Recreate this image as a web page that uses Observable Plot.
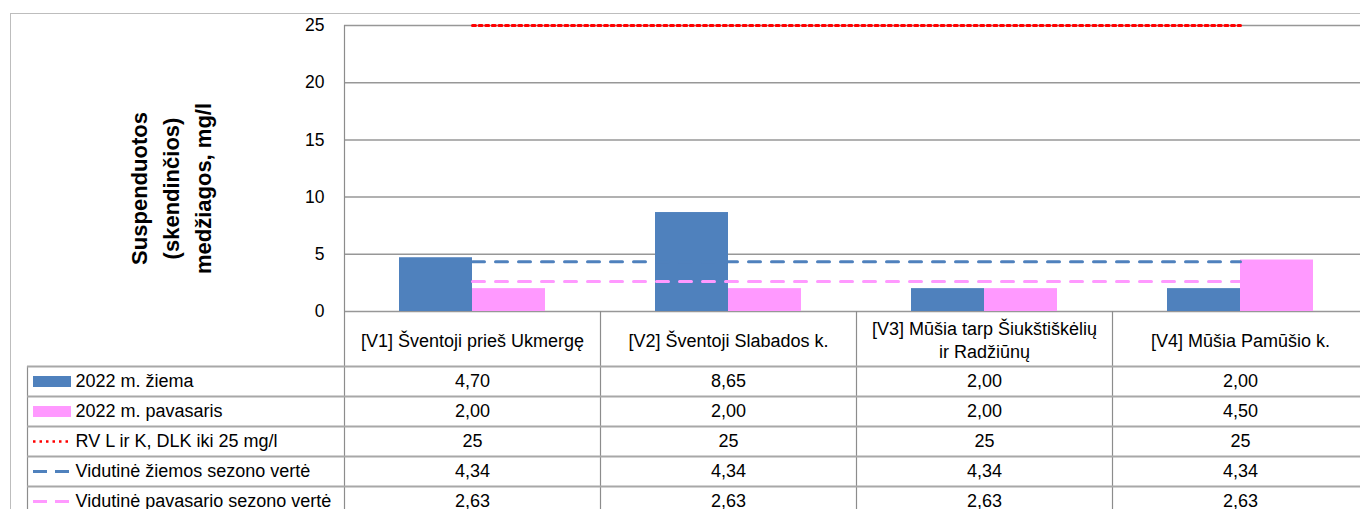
<!DOCTYPE html>
<html><head><meta charset="utf-8">
<script src="https://cdn.jsdelivr.net/npm/d3@7"></script>
<script src="https://cdn.jsdelivr.net/npm/@observablehq/plot@0.6"></script>
<style>
body{margin:0;background:#fff;}
#wrap{position:relative;width:1360px;height:509px;overflow:hidden;font-family:"Liberation Sans",Arial,sans-serif;background:#fff;}
#frame{position:absolute;left:10px;top:13px;width:1400px;height:600px;border:1.5px solid #bdbdbd;box-sizing:border-box;}
#chart{position:absolute;left:0;top:0;}
#table{position:absolute;left:0;top:311px;}
</style></head>
<body><div id="wrap"><div id="frame"></div><div id="chart"></div><div id="table"></div></div>
<script>
// ---- data ----
const categories = ["[V1] Šventoji prieš Ukmergę", "[V2] Šventoji Slabados k.", "[V3] Mūšia tarp Šiukštiškėlių ir Radžiūnų", "[V4] Mūšia Pamūšio k."];
const categoryLabels = ["[V1] Šventoji prieš Ukmergę", "[V2] Šventoji Slabados k.", "[V3] Mūšia tarp Šiukštiškėlių\nir Radžiūnų", "[V4] Mūšia Pamūšio k."];
const seriesNames = ["2022 m. žiema", "2022 m. pavasaris", "RV L ir K, DLK iki 25 mg/l", "Vidutinė žiemos sezono vertė", "Vidutinė pavasario sezono vertė"];
const winter = [4.70, 8.65, 2.00, 2.00];
const spring = [2.00, 2.00, 2.00, 4.50];
const limit = [25, 25, 25, 25];
const winterAvg = [4.34, 4.34, 4.34, 4.34];
const springAvg = [2.63, 2.63, 2.63, 2.63];
const yTicks = [0, 5, 10, 15, 20, 25];
const yTitle = "Suspenduotos\n(skendinčios)\nmedžiagos, mg/l";

// ---- styles / layout ----
const FONT = "'Liberation Sans', Arial, sans-serif";
const BLUE = "#4F81BD", PINK = "#FF99FF", RED = "#FF0000";
const GRID = "#979797", VLINE = "#8c8c8c", HLINE = "#a8a8a8";
const X0 = 344, X1 = 1368;
const bw = (X1 - X0) / categories.length;
const barW = 73;
const LABEL_LEFT = 27;

const rows = (vals, s) => categories.map((c, i) => ({cat: c, v: vals[i], series: s}));
const winterRows = rows(winter, seriesNames[0]);
const springRows = rows(spring, seriesNames[1]);
const limitRows = rows(limit, seriesNames[2]);
const wAvgRows = rows(winterAvg, seriesNames[3]);
const sAvgRows = rows(springAvg, seriesNames[4]);

const comma2 = v => d3.format(".2f")(v).replace(".", ",");
const tableData = [
  ...winterRows.map(d => ({...d, t: comma2(d.v)})),
  ...springRows.map(d => ({...d, t: comma2(d.v)})),
  ...limitRows.map(d => ({...d, t: String(d.v)})),
  ...wAvgRows.map(d => ({...d, t: comma2(d.v)})),
  ...sAvgRows.map(d => ({...d, t: comma2(d.v)}))
];

// ---- chart ----
const chart = Plot.plot({
  width: 1360, height: 312,
  marginTop: 25, marginBottom: 1, marginLeft: X0, marginRight: 0,
  style: {fontFamily: FONT, fontSize: "17.5px", color: "#000", background: "transparent", overflow: "visible"},
  x: {type: "band", domain: categories, range: [X0, X1], padding: 0, axis: null},
  y: {domain: [0, 25], axis: null},
  marks: [
    Plot.gridY(yTicks, {stroke: GRID, strokeOpacity: 1, strokeWidth: 1.5}),
    Plot.ruleX([categories[0]], {x: d => d, dx: -bw / 2, stroke: VLINE, strokeWidth: 1.2}),
    Plot.axisY(yTicks, {tickSize: 0, tickPadding: 20, label: null, fill: "#000", fontSize: 17.5}),
    Plot.barY(winterRows, {x: "cat", y: "v", fill: BLUE, insetLeft: bw / 2 - barW, insetRight: bw / 2}),
    Plot.barY(springRows, {x: "cat", y: "v", fill: PINK, insetLeft: bw / 2, insetRight: bw / 2 - barW}),
    Plot.lineY(limitRows, {x: "cat", y: "v", stroke: RED, strokeWidth: 3, strokeDasharray: "3,3.6"}),
    Plot.lineY(wAvgRows, {x: "cat", y: "v", stroke: BLUE, strokeWidth: 3, strokeDasharray: "12,11"}),
    Plot.lineY(sAvgRows, {x: "cat", y: "v", stroke: PINK, strokeWidth: 3, strokeDasharray: "12,11"}),
    Plot.text([yTitle], {frameAnchor: "left", dx: 168 - X0, dy: 20, rotate: -90, fontWeight: "bold", fontSize: 22, lineHeight: 1.45, lineAnchor: "middle", textAnchor: "middle", fill: "#000"})
  ]
});
document.getElementById("chart").append(chart);

// ---- data table ----
const swatch = (name, opts) => Plot.ruleY([name], {y: d => d, insetLeft: -(X0 - 33), insetRight: 1360 - 71, ...opts});
const table = Plot.plot({
  width: 1360, height: 205,
  marginTop: 55, marginBottom: 0, marginLeft: X0, marginRight: 0,
  style: {fontFamily: FONT, fontSize: "18px", color: "#000", background: "transparent", overflow: "visible"},
  x: {type: "band", domain: categories, range: [X0, X1], padding: 0, axis: null},
  y: {type: "band", domain: seriesNames, range: [55, 205], padding: 0, axis: null},
  marks: [
    // vertical lines (header + body)
    Plot.ruleX(categories, {x: d => d, dx: -bw / 2, insetTop: -55, stroke: VLINE, strokeWidth: 1.2}),
    // label column left border
    Plot.ruleX([categories[0]], {x: d => d, dx: -bw / 2 - (X0 - LABEL_LEFT), stroke: VLINE, strokeWidth: 1.2}),
    // horizontal row lines
    Plot.ruleY(seriesNames, {y: d => d, dy: -15, insetLeft: -(X0 - LABEL_LEFT), stroke: HLINE, strokeWidth: 2}),
    // header labels
    Plot.text(categories, {x: d => d, text: (d, i) => categoryLabels[i], frameAnchor: "top", dy: -27.5, lineAnchor: "middle", lineHeight: 1.3, fill: "#000"}),
    // values
    Plot.text(tableData, {x: "cat", y: "series", text: "t", fill: "#000"}),
    // row labels
    Plot.text(seriesNames, {y: d => d, text: d => d, frameAnchor: "left", dx: 75 - X0, textAnchor: "start", fill: "#000"}),
    // legend swatches
    swatch(seriesNames[0], {stroke: BLUE, strokeWidth: 11}),
    swatch(seriesNames[1], {stroke: PINK, strokeWidth: 11}),
    swatch(seriesNames[2], {stroke: RED, strokeWidth: 2.5, strokeDasharray: "2.5,4"}),
    swatch(seriesNames[3], {stroke: BLUE, strokeWidth: 3, strokeDasharray: "14,8"}),
    swatch(seriesNames[4], {stroke: PINK, strokeWidth: 3, strokeDasharray: "14,8"})
  ]
});
document.getElementById("table").append(table);
</script>
</body></html>
